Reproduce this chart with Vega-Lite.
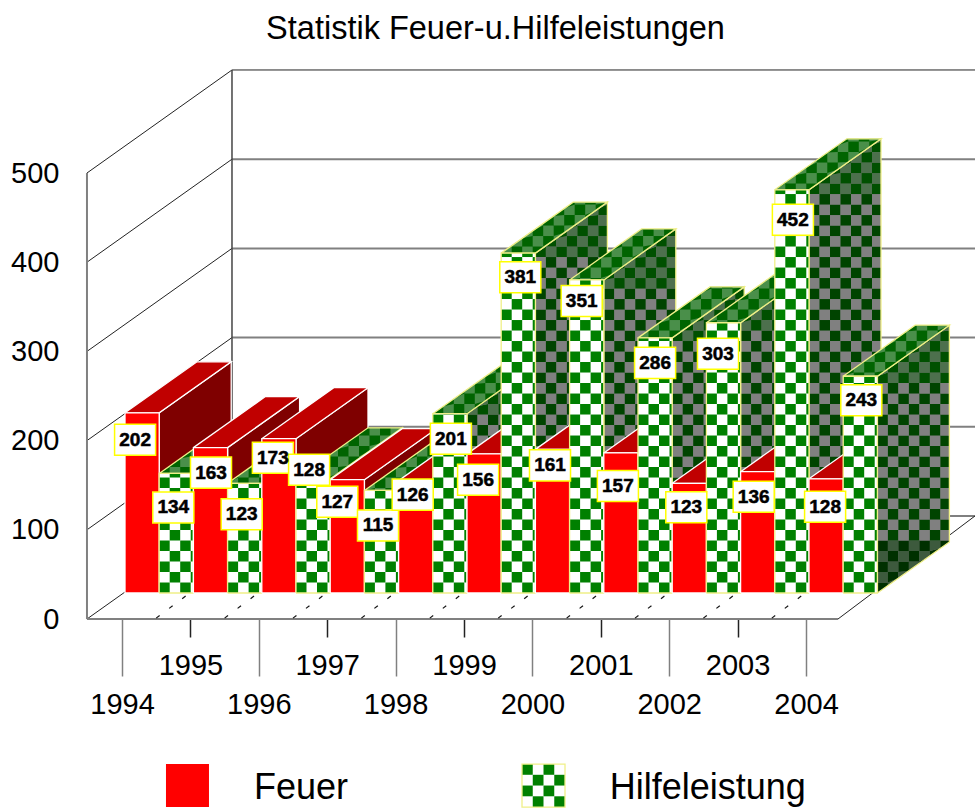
{
"$schema":"https://vega.github.io/schema/vega-lite/v6.json",
"width":975,"height":763,"padding":{"left":0,"right":0,"bottom":0,"top":45},"autosize":{"type":"none"},"background":"white",
"config":{"view":{"stroke":null},"font":"Liberation Sans"},
"title":{"text":"Statistik Feuer-u.Hilfeleistungen","font":"Liberation Sans","fontSize":32.5,"fontWeight":"normal","color":"black","anchor":"middle","frame":"group","dx":8,"offset":0},
"datasets":{
"bars":[
{"year":1994,"series":"Feuer","value":202},{"year":1994,"series":"Hilfeleistung","value":134},
{"year":1995,"series":"Feuer","value":163},{"year":1995,"series":"Hilfeleistung","value":123},
{"year":1996,"series":"Feuer","value":173},{"year":1996,"series":"Hilfeleistung","value":128},
{"year":1997,"series":"Feuer","value":127},{"year":1997,"series":"Hilfeleistung","value":115},
{"year":1998,"series":"Feuer","value":126},{"year":1998,"series":"Hilfeleistung","value":201},
{"year":1999,"series":"Feuer","value":156},{"year":1999,"series":"Hilfeleistung","value":381},
{"year":2000,"series":"Feuer","value":161},{"year":2000,"series":"Hilfeleistung","value":351},
{"year":2001,"series":"Feuer","value":157},{"year":2001,"series":"Hilfeleistung","value":286},
{"year":2002,"series":"Feuer","value":123},{"year":2002,"series":"Hilfeleistung","value":303},
{"year":2003,"series":"Feuer","value":136},{"year":2003,"series":"Hilfeleistung","value":452},
{"year":2004,"series":"Feuer","value":128},{"year":2004,"series":"Hilfeleistung","value":243}],
"grid":[{"level":0},{"level":100},{"level":200},{"level":300},{"level":400},{"level":500}],
"legend":[{"series":"Feuer"},{"series":"Hilfeleistung"}]
},
"encoding":{
"x":{"field":"px","type":"quantitative","scale":{"domain":[1992.2164,2006.4708],"nice":false,"zero":false},
"axis":{"title":null,"values":[1994,1995,1996,1997,1998,1999,2000,2001,2002,2003,2004],"format":"d","grid":false,"domain":false,"offset":-189,
"labelFont":"Liberation Sans","labelFontSize":29,"labelColor":"black","labelBaseline":"middle","labelFlush":false,"labelOverlap":false,
"tickSize":{"condition":{"test":"datum.value%2==0","value":57},"value":18},
"tickColor":{"condition":{"test":"datum.value%2==0","value":"#808080"},"value":"#222222"},
"tickWidth":1.5,
"labelPadding":28}},
"y":{"field":"py","type":"quantitative","scale":{"domain":[-211.88,643.5],"nice":false,"zero":false},
"axis":{"title":null,"values":[0,100,200,300,400,500],"grid":false,"domain":false,"ticks":false,"offset":-60,"labelPadding":1,
"labelFont":"Liberation Sans","labelFontSize":29,"labelColor":"black"}}
},
"layer":[
{"data":{"name":"grid"},
 "transform":[{"calculate":"1993.488","as":"px"},{"calculate":"datum.level","as":"py"},{"calculate":"1995.608","as":"bx"},{"calculate":"datum.level+115.5","as":"by"}],
 "mark":{"type":"rule","color":"#222222","strokeWidth":1},
 "encoding":{"x2":{"field":"bx"},"y2":{"field":"by"}}},
{"data":{"name":"grid"},
 "transform":[{"calculate":"1995.608","as":"px"},{"calculate":"datum.level+115.5","as":"py"},{"calculate":"2006.4708","as":"ex"},{"filter":"datum.level<500"}],
 "mark":{"type":"rule","color":"#808080","strokeWidth":2},
 "encoding":{"x2":{"field":"ex"}}},
{"data":{"name":"grid"},
 "transform":[{"filter":"datum.level==500"},{"calculate":"1995.608","as":"px"},{"calculate":"datum.level+115.5","as":"py"},{"calculate":"2006.4708","as":"ex"}],
 "mark":{"type":"rule","color":"#222222","strokeWidth":1},
 "encoding":{"x2":{"field":"ex"}}},
{"data":{"name":"grid"},
 "transform":[{"filter":"datum.level==500"},{"calculate":"1993.488","as":"px"},{"calculate":"0","as":"py"},{"calculate":"datum.level","as":"ey"}],
 "mark":{"type":"rule","color":"#808080","strokeWidth":2},
 "encoding":{"y2":{"field":"ey"}}},
{"data":{"name":"grid"},
 "transform":[{"filter":"datum.level==500"},{"calculate":"1995.608","as":"px"},{"calculate":"115.5","as":"py"},{"calculate":"datum.level+115.5","as":"ey"}],
 "mark":{"type":"rule","color":"#444444","strokeWidth":1.5},
 "encoding":{"y2":{"field":"ey"}}},
{"data":{"name":"grid"},
 "transform":[{"filter":"datum.level==0"},{"calculate":"1993.488","as":"px"},{"calculate":"0","as":"py"},{"calculate":"2004.468","as":"ex"}],
 "mark":{"type":"rule","color":"#808080","strokeWidth":2},
 "encoding":{"x2":{"field":"ex"}}},
{"data":{"name":"grid"},
 "transform":[{"filter":"datum.level==0"},{"calculate":"2004.468","as":"px"},{"calculate":"0","as":"py"},{"calculate":"2006.4708","as":"ex"},{"calculate":"115.5","as":"ey"}],
 "mark":{"type":"rule","color":"#222222","strokeWidth":1},
 "encoding":{"x2":{"field":"ex"},"y2":{"field":"ey"}}},
{"data":{"name":"bars"},
 "transform":[{"filter":"datum.series=='Feuer' && datum.year<2004"},{"calculate":"[0,1,2]","as":"j"},{"flatten":["j"]},
  {"calculate":"datum.year+0.5+datum.j*0.19","as":"px"},{"calculate":"1+datum.j*10.9","as":"py"},{"calculate":"datum.px+0.05","as":"ex"},{"calculate":"datum.py+3","as":"ey"}],
 "mark":{"type":"rule","color":"#111111","strokeWidth":1.2},
 "encoding":{"x2":{"field":"ex"},"y2":{"field":"ey"}}},
{"data":{"name":"bars"},
 "transform":[
  {"calculate":"datum.series=='Hilfeleistung'","as":"green"},
  {"calculate":"datum.year+0.0439+(datum.green?0.5:0)","as":"x0"},
  {"calculate":"datum.x0+0.5","as":"xe"},
  {"calculate":"29.15","as":"base"},
  {"calculate":"datum.base+datum.value","as":"top"},
  {"calculate":"['side','top','front']","as":"face"},{"flatten":["face"]},
  {"calculate":"datum.face=='side'?datum.xe:datum.x0","as":"fx0"},
  {"calculate":"datum.face=='front'?datum.xe:datum.xe+1.0526","as":"fx1"},
  {"calculate":"datum.face=='front'?datum.base:datum.face=='side'?-9999:datum.top","as":"a1"},
  {"calculate":"datum.face=='front'?-9999:datum.face=='side'?datum.base:datum.top","as":"b1"},
  {"calculate":"datum.face=='front'?datum.top:datum.face=='side'?9999:datum.top+57.2","as":"a2"},
  {"calculate":"datum.face=='front'?9999:datum.face=='side'?datum.top-27.17:datum.top","as":"b2"},
  {"calculate":"datum.green?ceil((datum.fx1-datum.fx0)/0.1535):0","as":"ncol"},
  {"calculate":"datum.green?ceil((datum.value+57.2)/11.77):1","as":"nrow"},
  {"calculate":"sequence(-1,datum.ncol*datum.nrow+1)","as":"piece"},{"flatten":["piece"]},
  {"calculate":"datum.piece==-1?'base':datum.piece==datum.ncol*datum.nrow?'line':'cell'","as":"kind"},
  {"calculate":"floor(datum.piece/datum.nrow)","as":"col"},
  {"calculate":"datum.piece%datum.nrow","as":"row"},
  {"calculate":"datum.fx0+datum.col*0.1535","as":"xa"},
  {"calculate":"min(datum.fx1,datum.xa+0.1535)","as":"xb"},
  {"calculate":"datum.base+datum.row*11.77","as":"y0"},
  {"calculate":"datum.y0+11.77","as":"y1"},
  {"calculate":"max(datum.a1,datum.b1+(datum.xa-datum.xe)*54.34)","as":"lowa"},
  {"calculate":"max(datum.a1,datum.b1+(datum.xb-datum.xe)*54.34)","as":"lowb"},
  {"calculate":"min(datum.a2,datum.b2+(datum.xa-datum.x0)*54.34)","as":"upa"},
  {"calculate":"min(datum.a2,datum.b2+(datum.xb-datum.x0)*54.34)","as":"upb"},
  {"filter":"datum.kind!='cell' || (datum.y1>min(datum.lowa,datum.lowb) && datum.y0<max(datum.upa,datum.upb) && (datum.face=='side' || (datum.col+datum.row)%2==0))"},
  {"calculate":"(datum.col+datum.row)%2==0","as":"even"},
  {"calculate":"datum.kind=='line'?'transparent':datum.kind=='base'?(datum.green?(datum.face=='front'?'#ffffff':datum.face=='top'?'#006400':'#808080'):(datum.face=='front'?'#ff0000':datum.face=='top'?'#c00000':'#7f0000')):datum.face=='front'?'#008000':datum.face=='top'?'#4a8f4a':datum.y0<datum.base+50?(datum.even?'#003000':'#3d5a3d'):datum.y1>datum.top?(datum.even?'#005000':'#4d704d'):(datum.even?'#004400':'#808080')","as":"fillc"},
  {"calculate":"datum.kind=='line'?(datum.green?'#f0f088':'#ffffff'):'transparent'","as":"strokec"},
  {"calculate":"datum.face=='side'?datum.xe:datum.x0","as":"ox"},
  {"calculate":"datum.face=='top'?datum.top:datum.base","as":"oy"},
  {"calculate":"datum.face=='side'?1.0526:0.5","as":"ux"},
  {"calculate":"datum.face=='side'?57.2:0","as":"uy"},
  {"calculate":"datum.face=='top'?1.0526:0","as":"vx"},
  {"calculate":"datum.face=='top'?57.2:datum.value","as":"vy"},
  {"calculate":"[0,1,2,3,4]","as":"k"},{"flatten":["k"]},
  {"calculate":"datum.k%4","as":"kk"},
  {"calculate":"datum.kind=='cell'?((datum.kk==0||datum.kk==3)?datum.xa:datum.xb):datum.ox+((datum.kk==1||datum.kk==2)?datum.ux:0)+(datum.kk>=2?datum.vx:0)","as":"px"},
  {"calculate":"datum.kind=='cell'?(datum.kk==0?clamp(datum.y0,datum.lowa,datum.upa):datum.kk==1?clamp(datum.y0,datum.lowb,datum.upb):datum.kk==2?clamp(datum.y1,datum.lowb,datum.upb):clamp(datum.y1,datum.lowa,datum.upa)):datum.oy+((datum.kk==1||datum.kk==2)?datum.uy:0)+(datum.kk>=2?datum.vy:0)","as":"py"},
  {"calculate":"datum.year+datum.series+datum.face+datum.piece","as":"pid"}
 ],
 "mark":{"type":"line","strokeWidth":1.3,"strokeJoin":"miter","point":false},
 "encoding":{"detail":{"field":"pid"},"order":{"field":"k"},
  "fill":{"field":"fillc","type":"nominal","scale":null,"legend":null},
  "stroke":{"field":"strokec","type":"nominal","scale":null,"legend":null}}},
{"data":{"name":"bars"},
 "transform":[
  {"calculate":"(datum.year-1994)*2+(datum.series=='Hilfeleistung'?1:0)","as":"idx"},
  {"calculate":"datum.year+0.0439+(datum.series=='Hilfeleistung'?0.5:0)+0.25+[-7,-3,0.5,-3,-6,-4,-10,-3.5,-3,1,-6,2,-2.5,-5,-3,0,-3,-5.5,-4,1,-1,1][datum.idx]/68.4","as":"px"},
  {"calculate":"29.15+datum.value-[27,34,25,31,19,-9,22,35,14,25,26,24,16,21,33,25,24,31,25,30,28,24][datum.idx]/0.892","as":"py"},
  {"calculate":"datum.px-0.3","as":"bx0"},{"calculate":"datum.px+0.3","as":"bx1"},
  {"calculate":"datum.py-17.4","as":"by0"},{"calculate":"datum.py+17.4","as":"by1"}],
 "mark":{"type":"rect","fill":"white","stroke":"#ffff00","strokeWidth":1.5},
 "encoding":{"x":{"field":"bx0","type":"quantitative"},"x2":{"field":"bx1"},"y":{"field":"by0","type":"quantitative"},"y2":{"field":"by1"}}},
{"data":{"name":"bars"},
 "transform":[
  {"calculate":"(datum.year-1994)*2+(datum.series=='Hilfeleistung'?1:0)","as":"idx"},
  {"calculate":"datum.year+0.0439+(datum.series=='Hilfeleistung'?0.5:0)+0.25+[-7,-3,0.5,-3,-6,-4,-10,-3.5,-3,1,-6,2,-2.5,-5,-3,0,-3,-5.5,-4,1,-1,1][datum.idx]/68.4","as":"px"},
  {"calculate":"29.15+datum.value-[27,34,25,31,19,-9,22,35,14,25,26,24,16,21,33,25,24,31,25,30,28,24][datum.idx]/0.892","as":"py"}],
 "mark":{"type":"text","font":"Liberation Sans","fontWeight":"bold","fontSize":19,"color":"black","stroke":"black","strokeWidth":0.5,"align":"center","baseline":"middle"},
 "encoding":{"text":{"field":"value","type":"quantitative"}}},
{"data":{"name":"legend"},
 "transform":[{"calculate":"datum.series=='Feuer'?1994.643:1999.848","as":"px"},{"calculate":"datum.px+0.6287","as":"ex"},{"calculate":"-162.6","as":"py"},{"calculate":"-210.8","as":"ey"},
  {"calculate":"datum.series=='Feuer'?'#ff0000':'#ffffff'","as":"fillc"}],
 "mark":{"type":"rect"},
 "encoding":{"x":{"field":"px","type":"quantitative"},"x2":{"field":"ex"},"y":{"field":"py","type":"quantitative"},"y2":{"field":"ey"},"fill":{"field":"fillc","type":"nominal","scale":null,"legend":null}}},
{"data":{"name":"legend"},
 "transform":[{"filter":"datum.series=='Hilfeleistung'"},{"calculate":"[0,1,2,3]","as":"c"},{"flatten":["c"]},{"calculate":"[0,1,2,3]","as":"r"},{"flatten":["r"]},{"filter":"(datum.c+datum.r)%2==0"},
  {"calculate":"1999.848+datum.c*0.1572","as":"px"},{"calculate":"datum.px+0.1572","as":"ex"},{"calculate":"-162.6-datum.r*12.05","as":"py"},{"calculate":"datum.py-12.05","as":"ey"}],
 "mark":{"type":"rect","fill":"#008000"},
 "encoding":{"x":{"field":"px","type":"quantitative"},"x2":{"field":"ex"},"y":{"field":"py","type":"quantitative"},"y2":{"field":"ey"}}},
{"data":{"name":"legend"},
 "transform":[{"filter":"datum.series=='Hilfeleistung'"},{"calculate":"1999.848","as":"px"},{"calculate":"datum.px+0.6287","as":"ex"},{"calculate":"-162.6","as":"py"},{"calculate":"-210.8","as":"ey"}],
 "mark":{"type":"rect","fill":"transparent","stroke":"#f0f088","strokeWidth":1.3},
 "encoding":{"x":{"field":"px","type":"quantitative"},"x2":{"field":"ex"},"y":{"field":"py","type":"quantitative"},"y2":{"field":"ey"}}},
{"data":{"name":"legend"},
 "transform":[{"calculate":"datum.series=='Feuer'?1995.93:2001.13","as":"px"},{"calculate":"-201.8","as":"py"}],
 "mark":{"type":"text","font":"Liberation Sans","fontSize":36,"color":"black","align":"left","baseline":"alphabetic"},
 "encoding":{"text":{"field":"series","type":"nominal"}}}
]
}
